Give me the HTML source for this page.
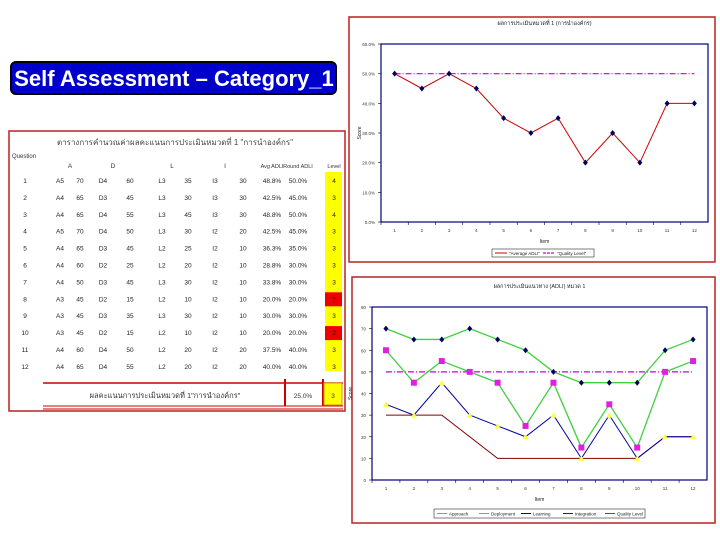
<!DOCTYPE html>
<html><head><meta charset="utf-8">
<style>
body{margin:0;background:#fff;width:720px;height:540px;overflow:hidden;font-family:"Liberation Sans",sans-serif;}
svg text{font-family:"Liberation Sans","DejaVu Sans",sans-serif;}
</style></head>
<body>
<svg id="s" width="720" height="540" xmlns="http://www.w3.org/2000/svg">
<rect x="11" y="62" width="325" height="32" rx="5" fill="#0000cc" stroke="#000" stroke-width="2"/>
<text x="174" y="86" text-anchor="middle" font-size="22" font-weight="bold" fill="#fff">Self Assessment – Category_1</text>
<g id="tbl"></g>
<g id="c1"></g>
<g id="c2"></g>
</svg>
<script>
const items=['1','2','3','4','5','6','7','8','9','10','11','12'];
const avgADLI=[50,45,50,45,35,30,35,20,30,20,40,40];
const quality1=50;
const approach=[70,65,65,70,65,60,50,45,45,45,60,65];
const deployment=[60,45,55,50,45,25,45,15,35,15,50,55];
const learning=[35,30,45,30,25,20,30,10,30,10,20,20];
const integration=[30,30,30,20,10,10,10,10,10,10,20,20];
const quality2=50;
const tableRows=[
['1','A5','70','D4','60','L3','35','I3','30','48.8%','50.0%','4'],
['2','A4','65','D3','45','L3','30','I3','30','42.5%','45.0%','3'],
['3','A4','65','D4','55','L3','45','I3','30','48.8%','50.0%','4'],
['4','A5','70','D4','50','L3','30','I2','20','42.5%','45.0%','3'],
['5','A4','65','D3','45','L2','25','I2','10','36.3%','35.0%','3'],
['6','A4','60','D2','25','L2','20','I2','10','28.8%','30.0%','3'],
['7','A4','50','D3','45','L3','30','I2','10','33.8%','30.0%','3'],
['8','A3','45','D2','15','L2','10','I2','10','20.0%','20.0%','2'],
['9','A3','45','D3','35','L3','30','I2','10','30.0%','30.0%','3'],
['10','A3','45','D2','15','L2','10','I2','10','20.0%','20.0%','2'],
['11','A4','60','D4','50','L2','20','I2','20','37.5%','40.0%','3'],
['12','A4','65','D4','55','L2','20','I2','20','40.0%','40.0%','3']];
const NS='http://www.w3.org/2000/svg';
function el(p,t,a,txt){const e=document.createElementNS(NS,t);for(const k in a)e.setAttribute(k,a[k]);if(txt!==undefined)e.textContent=txt;p.appendChild(e);return e;}

const T=document.getElementById('tbl');
let r=el(T,'rect',{x:9,y:131,width:336,height:280,fill:'#fff',stroke:'#b22',"stroke-width":1.5});

let t=el(T,'text',{x:175,y:145,"font-size":8,"text-anchor":"middle",fill:'#444'},'ตารางการคำนวณค่าผลคะแนนการประเมินหมวดที่ 1 "การนำองค์กร"');

const colX=[25,60,80,103,130,162,188,215,243,272,298,334];
const hdr=['','A','','D','','L','','I','','Avg ADLI','Round ADLI','Level'];
el(T,'text',{x:12,y:158,"font-size":6,fill:'#333'},'Question');
hdr.forEach((h,i)=>{if(!h)return;const x=i%2==1&&i<9?colX[i]+10:colX[i];const tt=el(T,'text',{x:x,y:168,"font-size":i>=9?5.5:6.5,"text-anchor":"middle",fill:'#333'},h);
});
el(T,'rect',{x:325,y:172,width:17,height:199,fill:'#ffff00'});
tableRows.forEach((row,ri)=>{const y=183+ri*16.9;
 if(row[11]==='2'){const rr=el(T,'rect',{x:325,y:y-9,width:17,height:14,fill:'#e00'});}
 row.forEach((v,ci)=>{const tt=el(T,'text',{x:colX[ci],y:y,"font-size":6.5,"text-anchor":"middle",fill:'#222'},v);
 });});
el(T,'line',{x1:43,y1:383,x2:343,y2:383,stroke:'#c00',"stroke-width":1.5});
el(T,'line',{x1:43,y1:406,x2:343,y2:406,stroke:'#c00',"stroke-width":1});
el(T,'line',{x1:43,y1:409,x2:343,y2:409,stroke:'#c00',"stroke-width":1});
el(T,'line',{x1:285,y1:379,x2:285,y2:406,stroke:'#c00',"stroke-width":2});
el(T,'line',{x1:323,y1:379,x2:323,y2:406,stroke:'#c00',"stroke-width":2});
el(T,'rect',{x:324,y:383,width:18,height:22,fill:'#ffff00',stroke:'#c90',"stroke-width":1});
t=el(T,'text',{x:165,y:398,"font-size":7.5,"text-anchor":"middle",fill:'#333'},'ผลคะแนนการประเมินหมวดที่ 1"การนำองค์กร"');

t=el(T,'text',{x:303,y:398,"font-size":6.5,"text-anchor":"middle",fill:'#333'},'25.0%');

t=el(T,'text',{x:333,y:398,"font-size":6.5,"text-anchor":"middle",fill:'#333'},'3');


function chart(G,o){
 const fr=el(G,'rect',{x:o.fx,y:o.fy,width:o.fw,height:o.fh,fill:'#fff',stroke:'#b22',"stroke-width":1.5});
 
 el(G,'rect',{x:o.L,y:o.T,width:o.R-o.L,height:o.B-o.T,fill:'#fff',stroke:'#000080',"stroke-width":1.2});
 const ys=v=>o.B-(v-o.ymin)/(o.ymax-o.ymin)*(o.B-o.T);
 const bw=(o.R-o.L)/items.length;const xs=i=>o.L+bw*(i+0.5);
 for(let v=o.ymin;v<=o.ymax;v+=o.step){const y=ys(v);el(G,'line',{x1:o.L-3,y1:y,x2:o.L,y2:y,stroke:'#000',"stroke-width":.6});
  const tl=el(G,'text',{x:o.L-6,y:y+2,"font-size":4.5,"text-anchor":"end",fill:'#333'},o.fmt(v));
  }
 items.forEach((c,i)=>{el(G,'line',{x1:o.L+bw*i,y1:o.B,x2:o.L+bw*i,y2:o.B+3,stroke:'#000',"stroke-width":.6});
  const tl=el(G,'text',{x:xs(i),y:o.B+10,"font-size":4.5,"text-anchor":"middle",fill:'#333'},c);
  });
 let tt=el(G,'text',{x:(o.L+o.R)/2,y:o.title_y,"font-size":5.5,"text-anchor":"middle",fill:'#222'},o.title);
 
 tt=el(G,'text',{x:(o.L+o.R)/2,y:o.B+21,"font-size":5,"text-anchor":"middle",fill:'#222'},'Item');
 
 tt=el(G,'text',{x:o.L-20,y:(o.T+o.B)/2,"font-size":5,"text-anchor":"middle",fill:'#222',transform:`rotate(-90 ${o.L-20} ${(o.T+o.B)/2})`},'Score');
 
 return {xs,ys};
}
function series(G,ax,vals,color,w,marker,mcol,name){
 const p=el(G,'polyline',{points:vals.map((v,i)=>ax.xs(i)+','+ax.ys(v)).join(' '),fill:'none',stroke:color,"stroke-width":w});
 
 vals.forEach((v,i)=>{const x=ax.xs(i),y=ax.ys(v);let m;
  if(marker==='d')m=el(G,'path',{d:`M${x} ${y-3}L${x+2.5} ${y}L${x} ${y+3}L${x-2.5} ${y}Z`,fill:mcol});
  else if(marker==='s')m=el(G,'rect',{x:x-3,y:y-3,width:6,height:6,fill:mcol});
  else if(marker==='t')m=el(G,'path',{d:`M${x} ${y-3}L${x+3} ${y+2.5}L${x-3} ${y+2.5}Z`,fill:mcol});
  if(m){}});
}
function qline(G,ax,v,name){const l=el(G,'line',{x1:ax.xs(0),y1:ax.ys(v),x2:ax.xs(items.length-1),y2:ax.ys(v),stroke:'#c0c',"stroke-width":1.2,"stroke-dasharray":'6 2 1 2'});
 }

const G1=document.getElementById('c1');
const a1=chart(G1,{fx:349,fy:17,fw:366,fh:245,L:381,R:708,T:44,B:222,ymin:0,ymax:60,step:10,fmt:v=>v.toFixed(1)+'%',title:'ผลการประเมินหมวดที่ 1 (การนำองค์กร)',title_y:25});
qline(G1,a1,quality1,'quality-level-line');
series(G1,a1,avgADLI,'#c00',1,'d','#000060','avg-adli');
let lg=el(G1,'rect',{x:492,y:249,width:102,height:8,fill:'#fff',stroke:'#000',"stroke-width":.5});

el(G1,'line',{x1:495,y1:253,x2:507,y2:253,stroke:'#c00',"stroke-width":1});
el(G1,'text',{x:509,y:255,"font-size":4.5,fill:'#222'},'"Average ADLI"');
el(G1,'line',{x1:543,y1:253,x2:555,y2:253,stroke:'#c0c',"stroke-width":1.2,"stroke-dasharray":'3 1'});
el(G1,'text',{x:557,y:255,"font-size":4.5,fill:'#222'},'"Quality Level"');

const G2=document.getElementById('c2');
const a2=chart(G2,{fx:352,fy:277,fw:363,fh:246,L:372,R:707,T:307,B:480,ymin:0,ymax:80,step:10,fmt:v=>String(v),title:'ผลการประเมินแนวทาง (ADLI) หมวด 1',title_y:288});
qline(G2,a2,quality2,'quality-level-line-2');
series(G2,a2,integration,'#800000',1,null,null,'integration');
series(G2,a2,learning,'#0000a0',1,'t','#ffff40','learning');
series(G2,a2,deployment,'#40d040',1.3,'s','#e020e0','deployment');
series(G2,a2,approach,'#40d040',1.3,'d','#000060','approach');
lg=el(G2,'rect',{x:434,y:509,width:211,height:9,fill:'#fff',stroke:'#000',"stroke-width":.5});

[['Approach','#40d040'],['Deployment','#40d040'],['Learning','#0000a0'],['Integration','#800000'],['Quality Level','#c0c']].forEach((e,i)=>{const x=437+i*42;
 el(G2,'line',{x1:x,y1:513.5,x2:x+10,y2:513.5,stroke:e[1],"stroke-width":1});
 const tx=el(G2,'text',{x:x+12,y:515.5,"font-size":4.5,fill:'#222'},e[0]);
 });
</script>
</body></html>
